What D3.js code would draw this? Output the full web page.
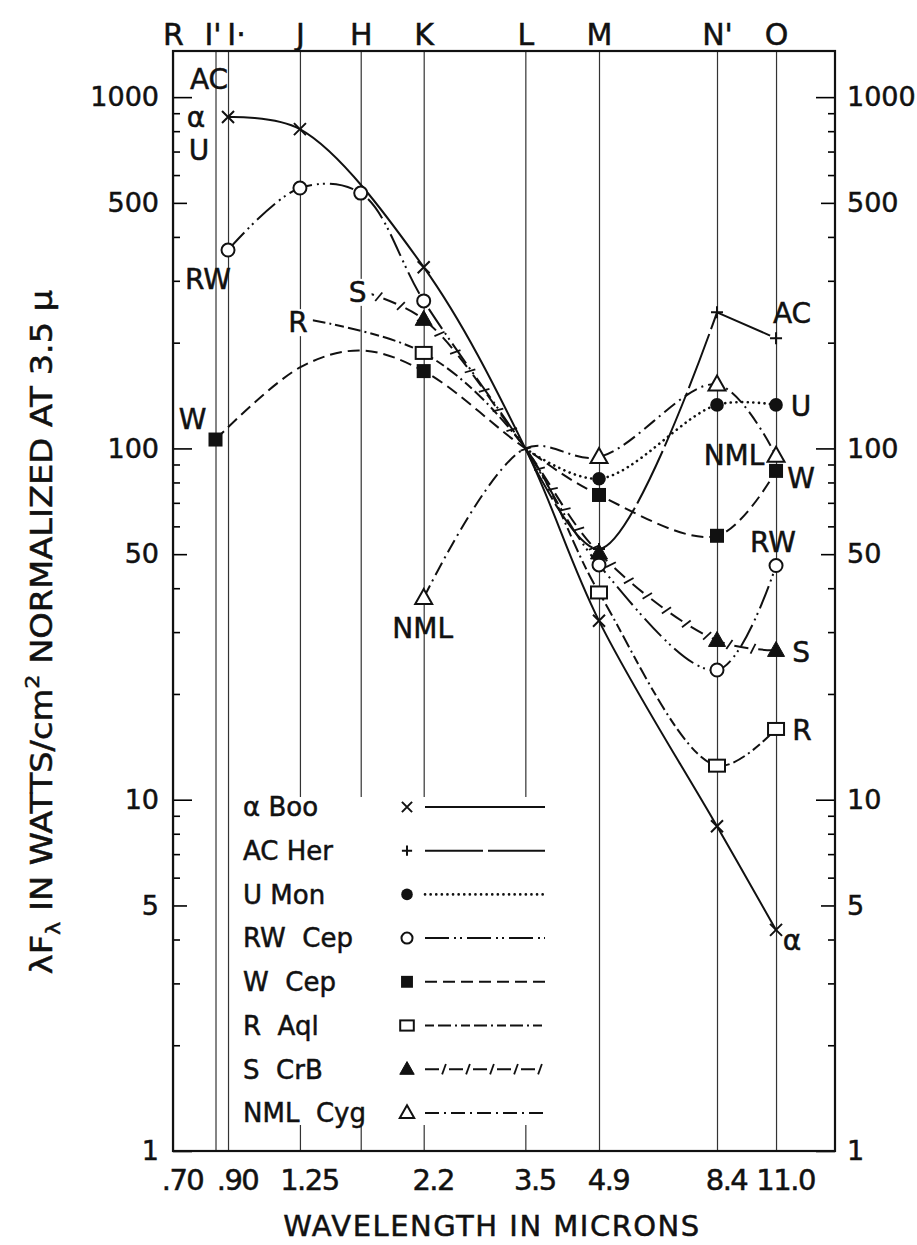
<!DOCTYPE html>
<html>
<head>
<meta charset="utf-8">
<script src="https://cdn.jsdelivr.net/npm/d3@7"></script>
<style>
  body { margin: 0; background: #fff; }
  text { font-family: "DejaVu Sans", sans-serif; fill: #111; stroke: #111; stroke-width: 0.5px; white-space: pre; }
</style>
</head>
<body>
<div id="chart"></div>
<script>
var width = 917, height = 1245;
var margin = {left: 173, top: 51, right: 82, bottom: 94};
var plotW = width - margin.left - margin.right;
var plotH = height - margin.top - margin.bottom;

// photometric bands (vertical lines + top labels)
var bandNames = ["R", "I'", "I·", "J", "H", "K", "L", "M", "N'", "O"];
var bandWavelengths = [0.70, 0.85, 0.90, 1.25, 1.65, 2.2, 3.5, 4.9, 8.4, 11.0];

// bottom tick labels
var xTickValues = [0.70, 0.90, 1.25, 2.2, 3.5, 4.9, 8.4, 11.0];
var xTickLabels = [".70", ".90", "1.25", "2.2", "3.5", "4.9", "8.4", "11.0"];
var yTickLabelValues = [1, 5, 10, 50, 100, 500, 1000];

// lambda F_lambda normalized to 100 at 3.5 micron, one value per band (null = not plotted)
//              R     I'    I     J     H     K     L    M     N'    O
var alphaBoo = [null, null, 878,  811,  null, 328,  100, 32.3, 8.4,  4.26];
var acHer    = [null, null, null, null, null, null, 100, 51.7, 244,  206];
var uMon     = [null, null, null, null, null, null, 100, 82,   133,  133];
var rwCep    = [null, null, 367,  551,  533,  263,  100, 46.6, 23.4, 46.4];
var wCep     = [null, 106,  null, 170,  190,  166,  100, 73.7, 56.4, 86.3];
var rAql     = [null, null, null, 235,  null, 187,  100, 38.9, 12.5, 15.9];
var sCrB     = [null, null, null, null, 281,  233,  100, 50.4, 28.4, 26.6];
var nmlCyg   = [null, null, null, null, null, 37.5, 100, 94.5, 152,  95.3];

var starNames = ["α Boo", "AC Her", "U Mon", "RW  Cep", "W  Cep", "R  Aql", "S  CrB", "NML  Cyg"];

// points drawn without a symbol (curve only, or a curve label sits there)
var series = [
  {name: starNames[0], values: alphaBoo, marker: "cross", dash: null, unmarked: []},
  {name: starNames[1], values: acHer, marker: "plus", dash: "58,5", cornerAt: 8.4, unmarked: []},
  {name: starNames[2], values: uMon, marker: "dot", dash: "0.1,5.5", round: true, unmarked: []},
  {name: starNames[3], values: rwCep, marker: "circle", dash: "24,5,2,4,2,5", unmarked: []},
  {name: starNames[4], values: wCep, marker: "square", dash: "12,6", unmarked: [1.25, 1.65]},
  {name: starNames[5], values: rAql, marker: "opensquare", dash: "9,4,13,4,2,4", unmarked: [1.25]},
  {name: starNames[6], values: sCrB, marker: "triangle", dash: "14,10", slashes: true, unmarked: [1.65]},
  {name: starNames[7], values: nmlCyg, marker: "opentriangle", dash: "14,5,2,5", unmarked: []}
];

// curve labels, anchored to a point of a series
var curveLabels = [
  {text: "AC", star: 0, wl: 0.90, dx: -19, dy: -38},
  {text: "α", star: 0, wl: 0.90, dx: -32, dy: 0},
  {text: "U", star: 0, wl: 0.90, dx: -29, dy: 33},
  {text: "RW", star: 3, wl: 0.90, dx: -20, dy: 29},
  {text: "W", star: 4, wl: 0.85, dx: -23, dy: -21},
  {text: "R", star: 5, wl: 1.25, dx: -2, dy: 4, box: true},
  {text: "S", star: 6, wl: 1.65, dx: -3, dy: 1, box: true},
  {text: "NML", star: 7, wl: 2.2, dx: -1, dy: 30},
  {text: "AC", star: 1, wl: 11.0, dx: 16, dy: -25},
  {text: "U", star: 2, wl: 11.0, dx: 25, dy: 1},
  {text: "NML", star: 7, wl: 11.0, dx: -42, dy: -1},
  {text: "W", star: 4, wl: 11.0, dx: 25, dy: 7},
  {text: "RW", star: 3, wl: 11.0, dx: -3, dy: -24},
  {text: "S", star: 6, wl: 11.0, dx: 25, dy: 1},
  {text: "R", star: 5, wl: 11.0, dx: 26, dy: 1},
  {text: "α", star: 0, wl: 11.0, dx: 16, dy: 10}
];

var svg = d3.select("#chart").append("svg")
  .attr("width", width)
  .attr("height", height);

var g = svg.append("g")
  .attr("transform", "translate(" + margin.left + "," + margin.top + ")");

var x = d3.scaleLog().domain([0.70, 14.4]).range([0, plotW]);
var y = d3.scaleLog().domain([1, 1353]).range([plotH, 0]);

function noDomain(sel) { sel.select(".domain").remove(); }

// band lines
g.append("g")
  .attr("transform", "translate(0," + plotH + ")")
  .call(d3.axisBottom(x).tickValues(bandWavelengths).tickSize(-plotH).tickFormat(""))
  .call(noDomain)
  .selectAll("line").attr("stroke", "#333").attr("stroke-width", 1.2);

// top band names
var topAxis = g.append("g")
  .call(d3.axisTop(x).tickValues(bandWavelengths).tickSize(0).tickPadding(6)
    .tickFormat(function(d, i) { return bandNames[i]; }))
  .call(noDomain);
topAxis.selectAll("text")
  .style("font-size", "30px").style("font-family", "DejaVu Sans")
  .attr("dx", function(d, i) { return bandNames[i] == "I'" ? -3 : (bandNames[i] == "I·" ? 8 : 0); });

// bottom wavelength labels
var botAxis = g.append("g")
  .attr("transform", "translate(0," + plotH + ")")
  .call(d3.axisBottom(x).tickValues(xTickValues).tickSize(0).tickPadding(18)
    .tickFormat(function(d, i) { return xTickLabels[i]; }))
  .call(noDomain);
botAxis.selectAll("text")
  .style("font-size", "29px").style("font-family", "DejaVu Sans")
  .style("letter-spacing", "-1.5px")
  .attr("dx", 9);

// y ticks, inward, three lengths
var yAll = y.ticks();
var yDecades = yAll.filter(function(v) { return Math.abs(Math.log10(v) % 1) < 1e-9; });
var yFives = yAll.filter(function(v) { return Math.abs(Math.log10(v / 5) % 1) < 1e-9; });
var yMinor = yAll.filter(function(v) { return yDecades.indexOf(v) < 0 && yFives.indexOf(v) < 0; });

[[yDecades, 19], [yFives, 14], [yMinor, 7]].forEach(function(t) {
  g.append("g")
    .call(d3.axisLeft(y).tickValues(t[0]).tickSize(-t[1]).tickFormat(""))
    .call(noDomain)
    .selectAll("line").attr("stroke-width", 1.6);
  g.append("g")
    .attr("transform", "translate(" + plotW + ",0)")
    .call(d3.axisRight(y).tickValues(t[0]).tickSize(-t[1]).tickFormat(""))
    .call(noDomain)
    .selectAll("line").attr("stroke-width", 1.6);
});

var yl = g.append("g")
  .call(d3.axisLeft(y).tickValues(yTickLabelValues).tickSize(0).tickPadding(14).tickFormat(d3.format("d")))
  .call(noDomain);
var yr = g.append("g")
  .attr("transform", "translate(" + plotW + ",0)")
  .call(d3.axisRight(y).tickValues(yTickLabelValues).tickSize(0).tickPadding(12).tickFormat(d3.format("d")))
  .call(noDomain);
svg.selectAll(".tick text").attr("fill", "#111");
yl.selectAll("text").style("font-size", "27px").style("font-family", "DejaVu Sans");
yr.selectAll("text").style("font-size", "27px").style("font-family", "DejaVu Sans");

// frame
g.append("rect")
  .attr("width", plotW).attr("height", plotH)
  .attr("fill", "none").attr("stroke", "#111").attr("stroke-width", 2.2);

// markers
function drawMarker(sel, type, k) {
  k = k || 1;
  var s = 6 * k;
  if (type == "cross") {
    sel.append("path").attr("d", "M" + -s + "," + -s + "L" + s + "," + s + "M" + -s + "," + s + "L" + s + "," + -s)
      .attr("stroke", "#111").attr("stroke-width", 2);
  } else if (type == "plus") {
    sel.append("path").attr("d", "M" + -s + ",0H" + s + "M0," + -s + "V" + s)
      .attr("stroke", "#111").attr("stroke-width", 2);
  } else if (type == "dot") {
    sel.append("circle").attr("r", 6.8 * k).attr("fill", "#111");
  } else if (type == "circle") {
    sel.append("circle").attr("r", 6.5 * k).attr("fill", "#fff").attr("stroke", "#111").attr("stroke-width", 2);
  } else if (type == "square") {
    sel.append("rect").attr("x", -7 * k).attr("y", -7 * k).attr("width", 14 * k).attr("height", 14 * k).attr("fill", "#111");
  } else if (type == "opensquare") {
    sel.append("rect").attr("x", -8 * k).attr("y", -6 * k).attr("width", 16 * k).attr("height", 12 * k)
      .attr("fill", "#fff").attr("stroke", "#111").attr("stroke-width", 2);
  } else {
    var tri = "M0," + (-9 * k) + "L" + (8.5 * k) + "," + (6 * k) + "H" + (-8.5 * k) + "Z";
    sel.append("path").attr("d", tri)
      .attr("fill", type == "triangle" ? "#111" : "#fff")
      .attr("stroke", "#111").attr("stroke-width", type == "triangle" ? 1 : 2);
  }
}

// slash ticks for S CrB line
function addSlashes(parent, node) {
  var len = node.getTotalLength();
  for (var s = 19; s < len - 3; s += 24) {
    var a = node.getPointAtLength(Math.max(0, s - 1));
    var b = node.getPointAtLength(Math.min(len, s + 1));
    var c = node.getPointAtLength(s);
    var ang = Math.atan2(b.y - a.y, b.x - a.x) - 70 * Math.PI / 180;
    parent.append("line")
      .attr("x1", c.x - 5.5 * Math.cos(ang)).attr("y1", c.y - 5.5 * Math.sin(ang))
      .attr("x2", c.x + 5.5 * Math.cos(ang)).attr("y2", c.y + 5.5 * Math.sin(ang))
      .attr("stroke", "#111").attr("stroke-width", 1.8);
  }
}

function pointsOf(values) {
  return bandWavelengths.map(function(wl, i) { return {wl: wl, v: values[i]}; })
    .filter(function(d) { return d.v != null; });
}

var smooth = d3.curveCatmullRom.alpha(0.5);

function styleLine(path, s) {
  path.attr("fill", "none").attr("stroke", "#111")
    .attr("stroke-width", s.round ? 2.6 : 2)
    .attr("stroke-linecap", s.round ? "round" : "butt")
    .attr("stroke-dasharray", s.dash);
}

var lines = g.append("g");
series.forEach(function(s) {
  var pts = pointsOf(s.values);
  var pieces = [];
  if (s.cornerAt) {
    var k = pts.findIndex(function(d) { return d.wl == s.cornerAt; });
    pieces.push({pts: pts.slice(0, k + 1), curve: smooth});
    pieces.push({pts: pts.slice(k), curve: d3.curveLinear});
  } else {
    pieces.push({pts: pts, curve: smooth});
  }
  pieces.forEach(function(p) {
    var line = d3.line()
      .x(function(d) { return x(d.wl); })
      .y(function(d) { return y(d.v); })
      .curve(p.curve);
    var path = lines.append("path").datum(p.pts).attr("d", line);
    styleLine(path, s);
    if (s.slashes) addSlashes(lines, path.node());
  });
});

var marks = g.append("g");
series.forEach(function(s) {
  pointsOf(s.values).forEach(function(d) {
    if (d.wl == 3.5) return;                       // normalization point
    if (s.unmarked.indexOf(d.wl) >= 0) return;
    var m = marks.append("g").attr("transform", "translate(" + x(d.wl) + "," + y(d.v) + ")");
    drawMarker(m, s.marker);
  });
});

// curve labels
var labs = g.append("g");
curveLabels.forEach(function(l) {
  var v = series[l.star].values[bandWavelengths.indexOf(l.wl)];
  var cx = x(l.wl) + l.dx, cy = y(v) + l.dy;
  var t = labs.append("text")
    .attr("x", cx).attr("y", cy).attr("dy", "0.36em")
    .attr("text-anchor", "middle")
    .style("font-size", "28px")
    .text(l.text);
  if (l.box) {
    var bb = t.node().getBBox();
    labs.insert("rect", function() { return t.node(); })
      .attr("x", bb.x - 3).attr("y", bb.y + 3).attr("width", bb.width + 8).attr("height", bb.height - 6)
      .attr("fill", "#fff");
  }
});

// legend
var legend = svg.append("g");
legend.append("rect")
  .attr("x", 237).attr("y", 797).attr("width", 316).attr("height", 328)
  .attr("fill", "#fff");
series.forEach(function(s, i) {
  var cy = 807 + i * 43.7;
  legend.append("text")
    .attr("x", 243).attr("y", cy).attr("dy", "0.36em")
    .style("font-size", "26px")
    .text(s.name);
  var m = legend.append("g").attr("transform", "translate(407," + cy + ")");
  drawMarker(m, s.marker, 0.85);
  var p = legend.append("path").attr("d", "M425," + cy + "H545");
  styleLine(p, s);
  if (s.slashes) addSlashes(legend, p.node());
});

// axis titles
svg.append("text")
  .attr("x", 492).attr("y", 1236)
  .attr("text-anchor", "middle")
  .style("font-size", "29px").style("letter-spacing", "1.5px")
  .text("WAVELENGTH IN MICRONS");

var yt = svg.append("text")
  .attr("text-anchor", "middle")
  .style("font-size", "30px");
yt.append("tspan").text("λF");
yt.append("tspan").attr("dy", 8).style("font-size", "20px").text("λ");
yt.append("tspan").attr("dy", -8).text(" IN WATTS/cm");
yt.append("tspan").attr("dy", -13).style("font-size", "20px").text("2");
yt.append("tspan").attr("dy", 13).text(" NORMALIZED AT 3.5 μ");
var ytLen = yt.node().getComputedTextLength();
yt.attr("transform", "translate(52,632) rotate(-90) scale(" + (685 / ytLen) + ",1)");
</script>
</body>
</html>
